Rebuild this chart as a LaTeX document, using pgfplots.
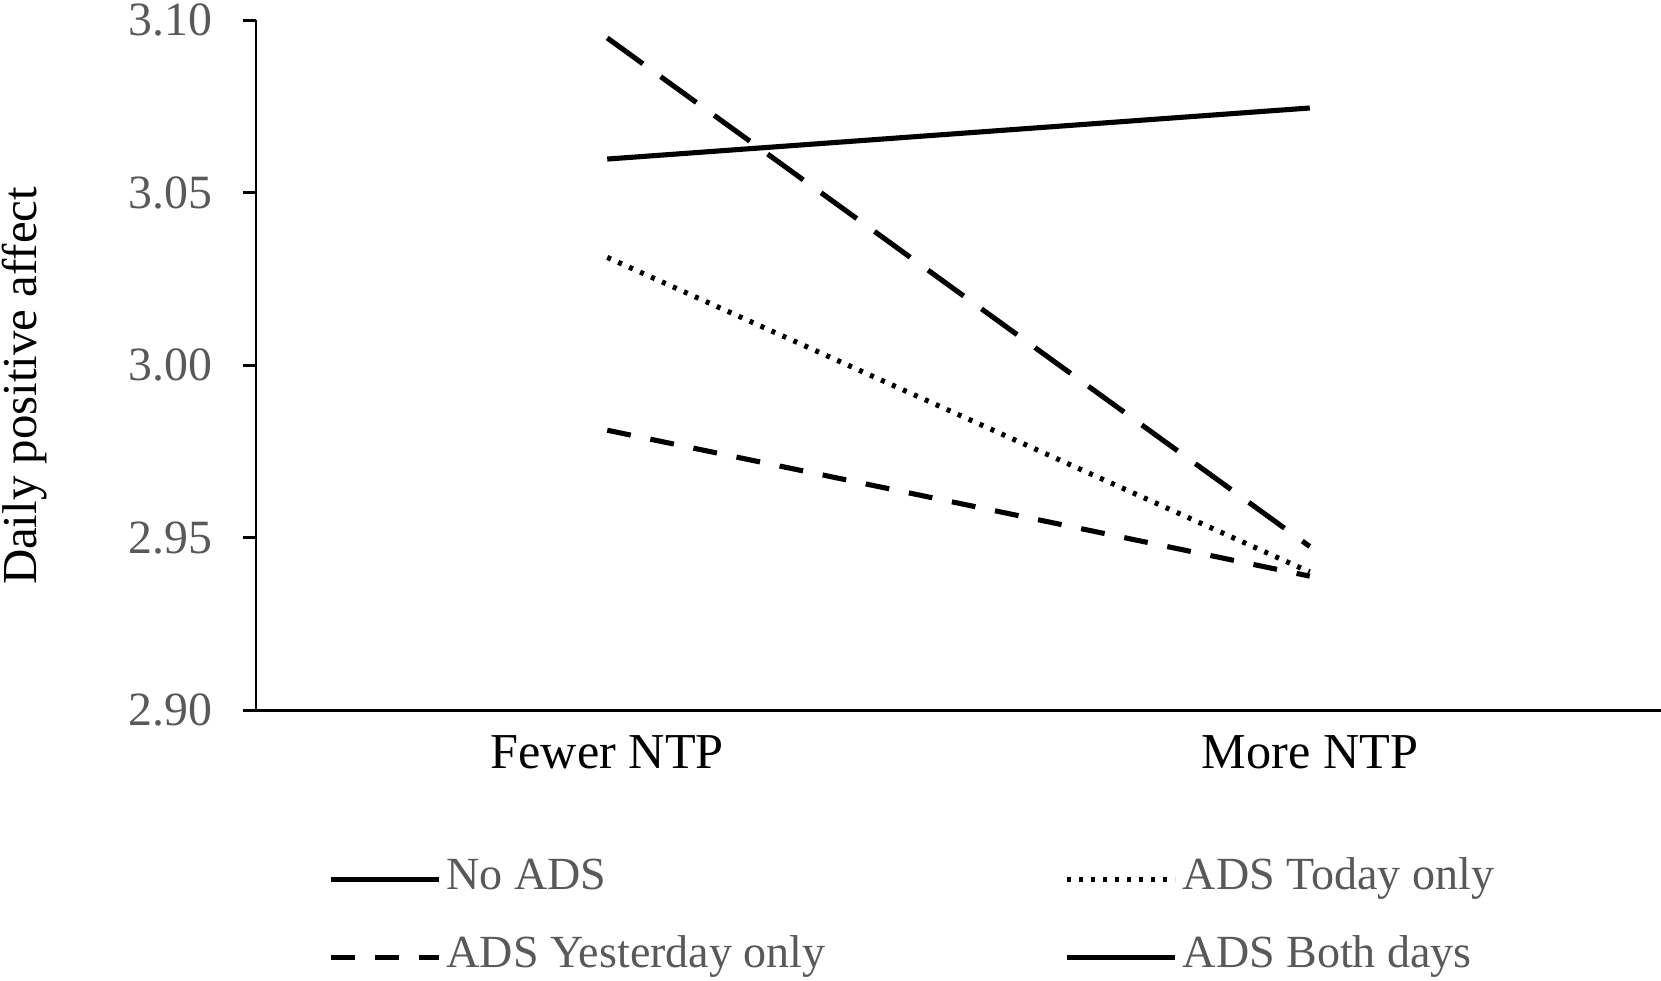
\documentclass[border=0pt]{standalone}
\usepackage{fontspec}
\setmainfont{Liberation Serif}
\usepackage{pgfplots}
\pgfplotsset{compat=1.18}
\definecolor{tickgray}{HTML}{595959}

\begin{document}
\begin{tikzpicture}
  \begin{axis}[
    at={(2.56cm,2.70cm)}, anchor=south west,
    width=14.05cm, height=6.90cm, scale only axis,
    xmin=0.5, xmax=2.5, ymin=2.9, ymax=3.1,
    axis x line=bottom, axis y line=left,
    axis line style={-, line width=0.85pt, black},
    xtick={1,2}, xticklabels={Fewer NTP, More NTP},
    x tick style={draw=none},
    xticklabel style={font=\fontsize{14.3}{16}\selectfont, text=black},
    ytick={2.90,2.95,3.00,3.05,3.10},
    yticklabels={2.90,2.95,3.00,3.05,3.10},
    yticklabel style={font=\fontsize{13.6}{16}\selectfont, text=tickgray, xshift=-0.18cm},
    y tick style={line width=0.85pt, black},
    tick align=outside, major tick length=0.13cm,
    every axis y label/.style={at={(axis description cs:-0.165,0.4696)},
      rotate=90, anchor=center, font=\fontsize{13.9}{16}\selectfont},
    ylabel={Daily positive affect},
    legend columns=2,
    legend cell align=left,
    legend image code/.code={\draw[#1] (0cm,0cm) -- (1.08cm,0cm);},
    legend style={draw=none, fill=none, at={(0.0512,-0.209)}, anchor=north west,
      inner sep=0pt, font=\fontsize{13.1}{15}\selectfont, text=tickgray,
      row sep=0.28cm,
      /tikz/every even column/.append style={column sep=2.34cm},
      nodes={inner sep=0.05cm, text height=0.3cm, text depth=0.1cm}},
  ]
    \addplot[black, line width=1.45pt] coordinates {(1,3.0597) (2,3.0745)};
    \addlegendentry{No ADS}
    \addplot[black, line width=1.45pt, dash pattern=on 0.04cm off 0.08cm] coordinates {(1,3.0312) (2,2.9400)};
    \addlegendentry{ADS Today only}
    \addplot[black, line width=1.45pt, dash pattern=on 0.24cm off 0.20cm] coordinates {(1,2.9811) (2,2.9388)};
    \addlegendentry{ADS Yesterday only}
    \addplot[black, line width=1.45pt, dash pattern=on 0.44cm off 0.22cm, forget plot] coordinates {(1,3.0948) (2,2.9474)};
    \addlegendimage{black, line width=1.45pt}
    \addlegendentry{ADS Both days}
  \end{axis}
  \pgfresetboundingbox
  \useasboundingbox (0,0) rectangle (16.61,9.80);
\end{tikzpicture}
\end{document}
